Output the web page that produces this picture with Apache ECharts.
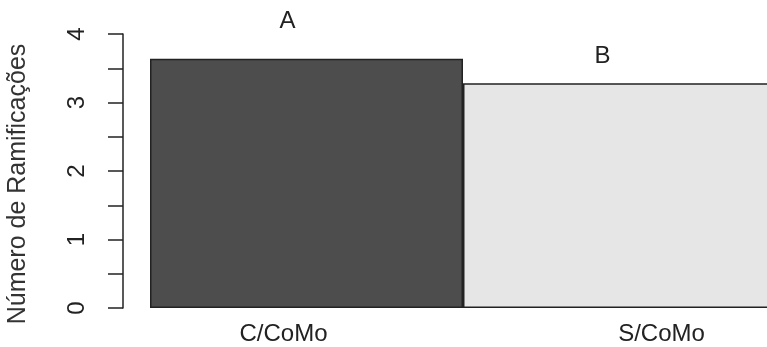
<!DOCTYPE html>
<html>
<head>
<meta charset="utf-8">
<script src="https://cdn.jsdelivr.net/npm/echarts@6/dist/echarts.min.js"></script>
<style>
  html, body { margin: 0; padding: 0; background: #fff; }
  #chart { width: 767px; height: 347px; }
</style>
</head>
<body>
<div id="chart"></div>
<script>
// Branch counts per treatment
const categories = ['C/CoMo', 'S/CoMo'];
const values = [3.64, 3.28];
const groupLetters = ['A', 'B'];
const barColors = ['#4d4d4d', '#e6e6e6'];
const yTicks = [0, 1, 2, 3, 4];

const FONT = '"Liberation Sans", Arial, sans-serif';
const chart = echarts.init(document.getElementById('chart'), null, { renderer: 'canvas' });

const letterOffsets = [[-19, -20], [-17, -10]];

chart.setOption({
  animation: false,
  grid: { left: 150, right: -9, top: 34, bottom: 39, containLabel: false, outerBoundsMode: 'none' },
  xAxis: {
    type: 'category',
    data: categories,
    axisLine: { show: false },
    axisTick: { show: false },
    axisLabel: {
      margin: 14,
      formatter: (v, i) => (i === 0 ? '{a|' + v + '}' : '{b|' + v + '}'),
      rich: {
        a: { fontFamily: FONT, fontSize: 24, color: '#222', padding: [0, 46, 0, 0] },
        b: { fontFamily: FONT, fontSize: 24, color: '#222', padding: [0, 0, 0, 84] }
      }
    }
  },
  yAxis: {
    type: 'value',
    min: 0,
    max: 4,
    interval: 0.5,
    offset: 27,
    name: 'Número de Ramificações',
    nameLocation: 'middle',
    nameGap: 92,
    nameRotate: 90,
    nameTextStyle: { fontFamily: FONT, fontSize: 25, color: '#333', padding: [0, 26, 0, 0] },
    splitLine: { show: false },
    axisLine: { show: true, lineStyle: { color: '#222', width: 1.5 } },
    axisTick: { show: true, length: 15, lineStyle: { color: '#222', width: 1.5 } },
    axisLabel: {
      rotate: 90,
      margin: 34,
      fontFamily: FONT,
      fontSize: 24,
      color: '#222',
      formatter: v => (yTicks.indexOf(v) >= 0 ? String(v) : '')
    }
  },
  series: [{
    type: 'bar',
    barCategoryGap: '0%',
    data: values.map((v, i) => ({
      value: v,
      itemStyle: { color: barColors[i], borderColor: '#222', borderWidth: 1.5 },
      label: {
        show: true,
        position: 'top',
        offset: letterOffsets[i],
        formatter: groupLetters[i],
        fontFamily: FONT,
        fontSize: 24,
        color: '#222'
      }
    }))
  }]
});
</script>
</body>
</html>
